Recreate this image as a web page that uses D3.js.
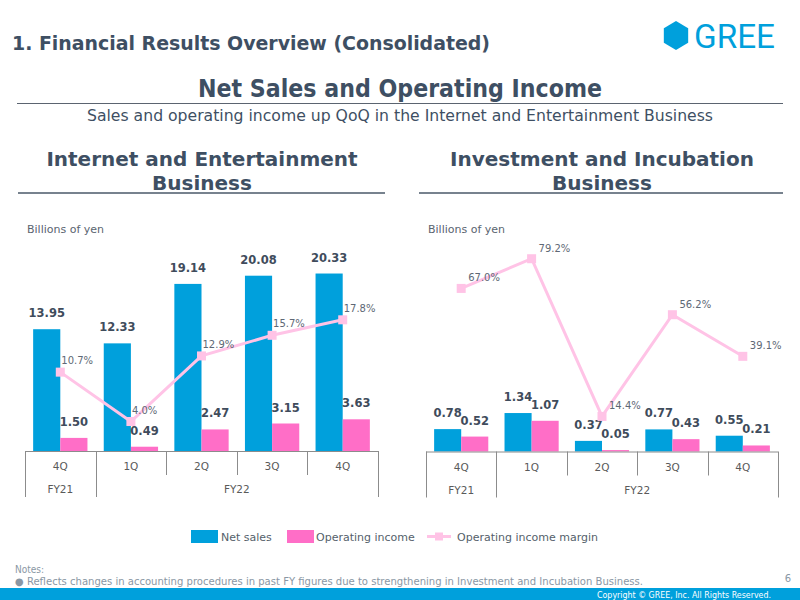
<!DOCTYPE html>
<html><head><meta charset="utf-8">
<script src="https://cdn.jsdelivr.net/npm/d3@7/dist/d3.min.js"></script>
<style>
body{margin:0;background:#fff;}
svg{display:block;}
</style></head>
<body>
<svg id="c" width="800" height="600"></svg>
<script>
// ---- data ----
const quarters = ["4Q","1Q","2Q","3Q","4Q"];
const fiscalYears = [{label:"FY21", span:1},{label:"FY22", span:4}];
const ieNetSales = [13.95, 12.33, 19.14, 20.08, 20.33];
const ieOpIncome = [1.50, 0.49, 2.47, 3.15, 3.63];
const ieMargin = [10.7, 4.0, 12.9, 15.7, 17.8];
const iiNetSales = [0.78, 1.34, 0.37, 0.77, 0.55];
const iiOpIncome = [0.52, 1.07, 0.05, 0.43, 0.21];
const iiMargin = [67.0, 79.2, 14.4, 56.2, 39.1];

const C = {blue:"#00a0dc", pink:"#ff6ec7", line:"#ffc3e6", dark:"#3e4f63", label:"#3f4c5c", pct:"#5e6875", axis:"#8c8c8c", axisText:"#5a5a5a"};
const svg = d3.select("#c");

function fit(sel, w){ sel.attr("textLength", w).attr("lengthAdjust","spacingAndGlyphs"); return sel; }

// ---- header ----
fit(svg.append("text").attr("x",12).attr("y",50).attr("fill",C.dark)
  .attr("font-family","DejaVu Sans Condensed").attr("font-weight","bold").attr("font-size",20)
  .text("1. Financial Results Overview (Consolidated)"), 478);

// logo
const hx=676, hy=35.5, hr=14.5;
svg.append("path").attr("fill",C.blue)
  .attr("d", d3.range(6).map(i=>{const a=Math.PI/3*i - Math.PI/2; return (i?"L":"M")+(hx+hr*Math.cos(a)*0.97)+","+(hy+hr*Math.sin(a));}).join("")+"Z");
fit(svg.append("text").attr("x",694).attr("y",48).attr("fill",C.blue)
  .attr("font-family","Roboto").attr("font-size",33).text("GREE"), 81);

fit(svg.append("text").attr("x",400).attr("y",97).attr("text-anchor","middle").attr("fill",C.dark)
  .attr("font-family","DejaVu Sans Condensed").attr("font-weight","bold").attr("font-size",24)
  .text("Net Sales and Operating Income"), 404);
svg.append("line").attr("x1",17).attr("x2",783).attr("y1",103.5).attr("y2",103.5).attr("stroke","#5b6470").attr("stroke-width",1);
fit(svg.append("text").attr("x",400).attr("y",121).attr("text-anchor","middle").attr("fill",C.dark)
  .attr("font-family","DejaVu Sans Condensed").attr("font-size",16)
  .text("Sales and operating income up QoQ in the Internet and Entertainment Business"), 626);

// ---- chart function ----
function chart(o){
  const g = svg.append("g");
  // section title
  o.title.forEach((t,i)=>{
    g.append("text").attr("x",o.titleX).attr("y",166+i*24).attr("text-anchor","middle")
      .attr("fill",C.dark).attr("font-family","DejaVu Sans").attr("font-weight","bold").attr("font-size",20).text(t);
  });
  g.append("line").attr("x1",o.ulX[0]).attr("x2",o.ulX[1]).attr("y1",193).attr("y2",193).attr("stroke","#4a5868").attr("stroke-width",1.5);
  g.append("text").attr("x",o.x0+2).attr("y",233).attr("fill","#5a6470").attr("font-family","DejaVu Sans").attr("font-size",11).text("Billions of yen");

  const idx = d3.range(quarters.length);
  const x = d3.scaleBand().domain(idx).range([o.x0,o.x1]).paddingInner(0).paddingOuter(0);
  const xs = d3.scaleBand().domain(["ns","oi"]).range([0,x.bandwidth()]).paddingInner(0).paddingOuter(0.3);
  const y = d3.scaleLinear().domain(o.yDom).range([o.base, o.base - o.yPx*o.yDom[1]]);
  const y2 = d3.scaleLinear().domain(o.y2Dom).range([o.base, o.base - o.y2Px*o.y2Dom[1]]);

  const series = [{k:"ns", v:o.ns, c:C.blue},{k:"oi", v:o.oi, c:C.pink}];
  series.forEach(s=>{
    g.selectAll(null).data(s.v).enter().append("rect")
      .attr("x",(d,i)=>x(i)+xs(s.k)).attr("width",xs.bandwidth())
      .attr("y",d=>y(d)).attr("height",d=>o.base-y(d)).attr("fill",s.c);
    g.selectAll(null).data(s.v).enter().append("text")
      .attr("x",(d,i)=>x(i)+xs(s.k)+xs.bandwidth()/2).attr("y",d=>y(d)-12)
      .attr("text-anchor","middle").attr("fill",C.label).attr("font-family","DejaVu Sans")
      .attr("font-weight","bold").attr("font-size",11.5).text(d=>d.toFixed(2));
  });

  // axis table
  const ax = g.append("g").attr("stroke",C.axis).attr("stroke-width",1);
  ax.append("line").attr("x1",o.x0).attr("x2",o.x1).attr("y1",o.base+0.5).attr("y2",o.base+0.5);
  let acc=0; const fyBounds=[0];
  fiscalYears.forEach(f=>{acc+=f.span; fyBounds.push(acc);});
  d3.range(quarters.length+1).forEach(i=>{
    const xx = Math.round(i<quarters.length ? x(i) : o.x1)+0.5;
    const full = fyBounds.includes(i);
    ax.append("line").attr("x1",xx).attr("x2",xx).attr("y1",o.base).attr("y2",o.base+(full?46:24));
  });
  g.selectAll(null).data(quarters).enter().append("text")
    .attr("x",(d,i)=>x(i)+x.bandwidth()/2).attr("y",o.base+19).attr("text-anchor","middle")
    .attr("fill",C.axisText).attr("font-family","DejaVu Sans").attr("font-size",10.5).text(d=>d);
  let start=0;
  fiscalYears.forEach(f=>{
    const a=x(start), b=(start+f.span<quarters.length)?x(start+f.span):o.x1;
    g.append("text").attr("x",(a+b)/2).attr("y",o.base+42).attr("text-anchor","middle")
      .attr("fill",C.axisText).attr("font-family","DejaVu Sans").attr("font-size",10.5).text(f.label);
    start+=f.span;
  });

  // margin line
  const line = d3.line().x((d,i)=>x(i)+x.bandwidth()/2).y(d=>y2(d));
  g.append("path").datum(o.m).attr("d",line).attr("fill","none").attr("stroke",C.line).attr("stroke-width",3);
  g.selectAll(null).data(o.m).enter().append("rect")
    .attr("x",(d,i)=>x(i)+x.bandwidth()/2-4.5).attr("y",d=>y2(d)-4.5).attr("width",9).attr("height",9).attr("fill",C.line);
  g.selectAll(null).data(o.m).enter().append("text")
    .attr("x",(d,i)=>x(i)+x.bandwidth()/2+o.pctDx).attr("y",d=>y2(d)-o.pctDy)
    .attr("fill",C.pct).attr("font-family","DejaVu Sans").attr("font-size",10).text(d=>d.toFixed(1)+"%");
}

chart({title:["Internet and Entertainment","Business"], titleX:202, ulX:[18,385],
  x0:25, x1:378, base:451, ns:ieNetSales, oi:ieOpIncome, m:ieMargin,
  yDom:[0,25], yPx:8.73, y2Dom:[0,30], y2Px:7.37, pctDx:1, pctDy:8});
chart({title:["Investment and Incubation","Business"], titleX:602, ulX:[419,783],
  x0:426, x1:778, base:451.5, ns:iiNetSales, oi:iiOpIncome, m:iiMargin,
  yDom:[0,8], yPx:28.7, y2Dom:[0,90], y2Px:2.434, pctDx:7, pctDy:7});

// ---- legend ----
const lg = svg.append("g").attr("font-family","DejaVu Sans").attr("font-size",11).attr("fill","#555f6b");
lg.append("rect").attr("x",191).attr("y",530).attr("width",27).attr("height",13).attr("fill",C.blue);
lg.append("text").attr("x",221).attr("y",540.5).text("Net sales");
lg.append("rect").attr("x",287).attr("y",530).attr("width",27).attr("height",13).attr("fill",C.pink);
lg.append("text").attr("x",316).attr("y",540.5).text("Operating income");
lg.append("line").attr("x1",427).attr("x2",451).attr("y1",536.5).attr("y2",536.5).attr("stroke",C.line).attr("stroke-width",3);
lg.append("rect").attr("x",435).attr("y",532.5).attr("width",8).attr("height",8).attr("fill",C.line);
lg.append("text").attr("x",457).attr("y",540.5).text("Operating income margin");

// ---- notes & footer ----
svg.append("text").attr("x",15).attr("y",573).attr("fill","#8a97a4").attr("font-family","DejaVu Sans Condensed").attr("font-size",10).text("Notes:");
fit(svg.append("text").attr("x",15).attr("y",584.5).attr("fill","#8a97a4").attr("font-family","DejaVu Sans Condensed").attr("font-size",10)
  .text("● Reflects changes in accounting procedures in past FY figures due to strengthening in Investment and Incubation Business."), 628);
svg.append("text").attr("x",791).attr("y",582).attr("text-anchor","end").attr("fill","#8a97a4").attr("font-family","DejaVu Sans").attr("font-size",10).text("6");
svg.append("rect").attr("x",0).attr("y",588).attr("width",800).attr("height",12).attr("fill",C.blue);
fit(svg.append("text").attr("x",771).attr("y",597.5).attr("text-anchor","end").attr("fill","#fff").attr("font-family","DejaVu Sans Condensed").attr("font-size",9)
  .text("Copyright © GREE, Inc. All Rights Reserved."), 174);
</script>
</body></html>
